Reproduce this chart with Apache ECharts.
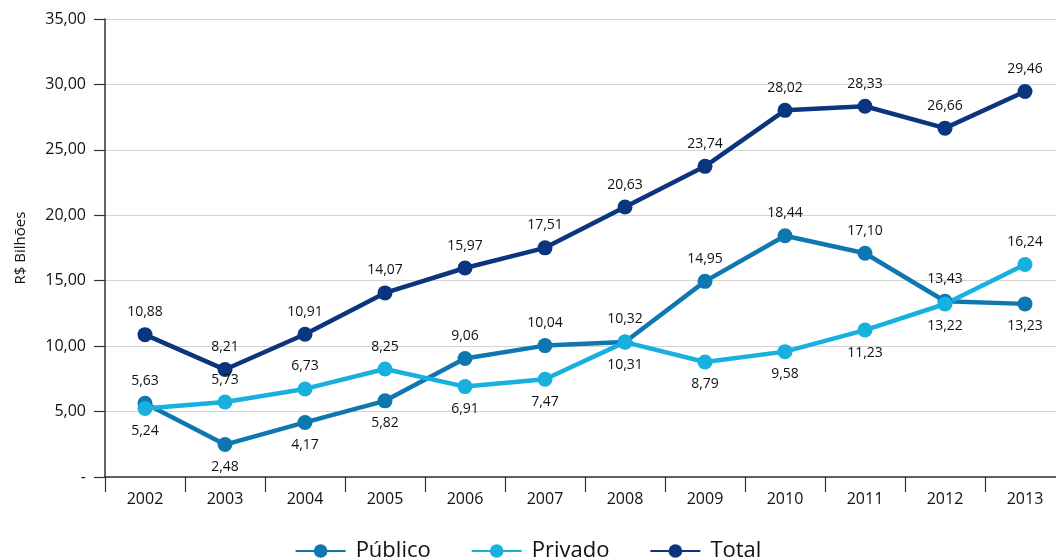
<!DOCTYPE html>
<html>
<head>
<meta charset="utf-8">
<script src="https://cdn.jsdelivr.net/npm/echarts@6/dist/echarts.min.js"></script>
<style>html,body{margin:0;padding:0;background:#fff}#c{width:1056px;height:559px}</style>
</head>
<body>
<div id="c"></div>
<script>
var categories = ['2002','2003','2004','2005','2006','2007','2008','2009','2010','2011','2012','2013'];
var publico = [5.63, 2.48, 4.17, 5.82, 9.06, 10.04, 10.32, 14.95, 18.44, 17.10, 13.43, 13.23];
var privado = [5.24, 5.73, 6.73, 8.25, 6.91, 7.47, 10.31, 8.79, 9.58, 11.23, 13.22, 16.24];
var total = [10.88, 8.21, 10.91, 14.07, 15.97, 17.51, 20.63, 23.74, 28.02, 28.33, 26.66, 29.46];

var FONT = '"Open Sans", "Noto Sans", sans-serif';
function fmt(v){ return v.toFixed(2).replace('.', ','); }

function build(vals, other, isPub){
  return vals.map(function(v, i){
    var above = isPub ? (v >= other[i]) : (v > other[i]);
    return { value: v, label: { position: above ? 'top' : 'bottom' } };
  });
}

function series(name, color, data){
  return {
    name: name, type: 'line', data: data,
    symbol: 'circle', symbolSize: 15,
    lineStyle: { width: 4.5, color: color },
    itemStyle: { color: color },
    label: {
      show: true, position: 'top', distance: 8,
      fontFamily: FONT, fontSize: 14, color: '#111',
      formatter: function(p){ return fmt(p.value); }
    },
    emphasis: { disabled: true },
    animation: false
  };
}

var chart = echarts.init(document.getElementById('c'));
chart.setOption({
  backgroundColor: '#fff',
  animation: false,
  grid: { left: 105, width: 960, top: 19, bottom: 82, containLabel: false, outerBoundsMode: 'none' },
  legend: {
    top: 535, left: 'center',
    itemWidth: 50, itemHeight: 17, itemGap: 40,
    textStyle: { fontFamily: FONT, fontSize: 22, color: '#111', padding: [0, 0, 0, 5] },
    data: ['Público', 'Privado', 'Total']
  },
  xAxis: {
    type: 'category', data: categories, boundaryGap: true,
    axisLine: { lineStyle: { color: '#333', width: 1.5 } },
    axisTick: { show: true, length: 15, lineStyle: { color: '#333', width: 1.2 } },
    axisLabel: { fontFamily: FONT, fontSize: 16, color: '#111', margin: 14 }
  },
  yAxis: {
    type: 'value', min: 0, max: 35, interval: 5,
    name: 'R$ Bilhões', nameLocation: 'middle', nameGap: 77, nameRotate: 90,
    nameTextStyle: { fontFamily: FONT, fontSize: 15, color: '#111' },
    axisLine: { show: true, lineStyle: { color: '#333', width: 1.5 } },
    axisTick: { show: true, length: 11, lineStyle: { color: '#333', width: 1.2 } },
    axisLabel: {
      fontFamily: FONT, fontSize: 16, color: '#111', margin: 19,
      formatter: function(v){ return v === 0 ? '-' : fmt(v); }
    },
    splitLine: { lineStyle: { color: '#d4d4d4', width: 1 } }
  },
  series: [
    series('Público', '#0f77b0', build(publico, privado, true)),
    series('Privado', '#18b0df', build(privado, publico, false)),
    series('Total', '#0c3580', total)
  ]
});
</script>
</body>
</html>
